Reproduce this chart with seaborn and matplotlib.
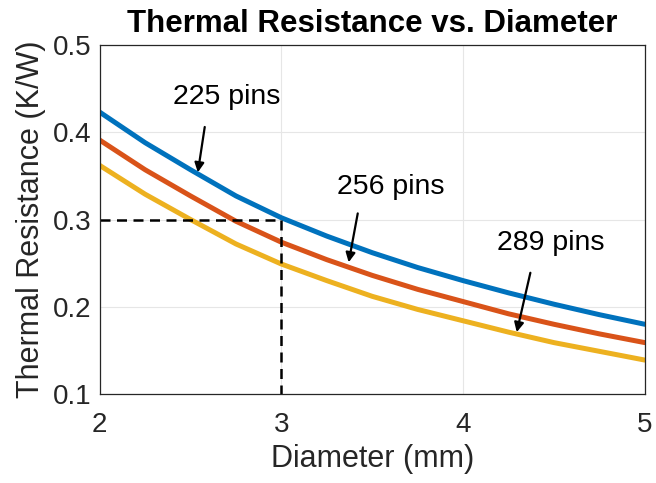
import numpy as np
import pandas as pd
import matplotlib
matplotlib.use("Agg")
import matplotlib.pyplot as plt
import seaborn as sns

diameter = [2.0, 2.25, 2.5, 2.75, 3.0, 3.25, 3.5, 3.75, 4.0, 4.25, 4.5, 4.75, 5.0]
r_225 = [0.423, 0.388, 0.357, 0.327, 0.302, 0.281, 0.262, 0.245, 0.230, 0.216, 0.203, 0.191, 0.180]
r_256 = [0.391, 0.357, 0.327, 0.298, 0.274, 0.254, 0.236, 0.220, 0.206, 0.192, 0.180, 0.169, 0.159]
r_289 = [0.362, 0.329, 0.300, 0.272, 0.249, 0.230, 0.212, 0.197, 0.184, 0.171, 0.159, 0.149, 0.139]
series_names = ["225 pins", "256 pins", "289 pins"]
colors = ["#0072BD", "#D95319", "#EDB120"]

df = pd.concat([
    pd.DataFrame({"Diameter": diameter, "R": vals, "Pins": name})
    for name, vals in zip(series_names, [r_225, r_256, r_289])
])

sns.set_theme(style="whitegrid")
plt.rcParams['font.family'] = ['Liberation Sans', 'DejaVu Sans']

fig = plt.figure(figsize=(6.56, 4.83), dpi=100)
ax = fig.add_axes([0.152, 0.184, 0.831, 0.723])

sns.lineplot(data=df, x="Diameter", y="R", hue="Pins", palette=colors,
             linewidth=3.6, legend=False, ax=ax)

# dashed guide at d=3 mm, R=0.3 K/W
ax.plot([2, 3], [0.3, 0.3], color="black", linestyle=(0, (4, 2.6)), linewidth=1.8)
ax.plot([3, 3], [0.3, 0.1], color="black", linestyle=(0, (4, 2.6)), linewidth=1.8)

ax.set_xlim(2, 5)
ax.set_ylim(0.1, 0.5)
ax.set_xticks([2, 3, 4, 5])
ax.set_yticks([0.1, 0.2, 0.3, 0.4, 0.5])
ax.set_xticklabels(["2", "3", "4", "5"])
ax.set_yticklabels(["0.1", "0.2", "0.3", "0.4", "0.5"])
ax.tick_params(axis="both", labelsize=20, colors="#262626", direction="in", length=5, width=0.8)
ax.tick_params(axis="x", pad=13)
ax.tick_params(axis="y", pad=6)
ax.grid(True, color="#e6e6e6", linewidth=0.8)
for s in ax.spines.values():
    s.set_color("#262626")
    s.set_linewidth(0.9)

ax.set_xlabel("Diameter (mm)", fontsize=22, color="#262626", labelpad=4)
ax.set_ylabel("Thermal Resistance (K/W)", fontsize=22, color="#262626", labelpad=5)
ax.set_title("Thermal Resistance vs. Diameter", fontsize=22.5, fontweight="bold", color="black", pad=9)

arrow = dict(arrowstyle="-|>", color="black", lw=1.6, mutation_scale=14, shrinkA=0, shrinkB=0)
ax.annotate("", xy=(2.54, 0.354), xytext=(2.578, 0.406), arrowprops=arrow)
ax.text(2.70, 0.440, "225 pins", fontsize=20.5, ha="center", va="center", color="black")
ax.annotate("", xy=(3.37, 0.251), xytext=(3.42, 0.307), arrowprops=arrow)
ax.text(3.60, 0.337, "256 pins", fontsize=20.5, ha="center", va="center", color="black")
ax.annotate("", xy=(4.295, 0.171), xytext=(4.37, 0.239), arrowprops=arrow)
ax.text(4.48, 0.273, "289 pins", fontsize=20.5, ha="center", va="center", color="black")

fig.savefig("out.png", dpi=100)
